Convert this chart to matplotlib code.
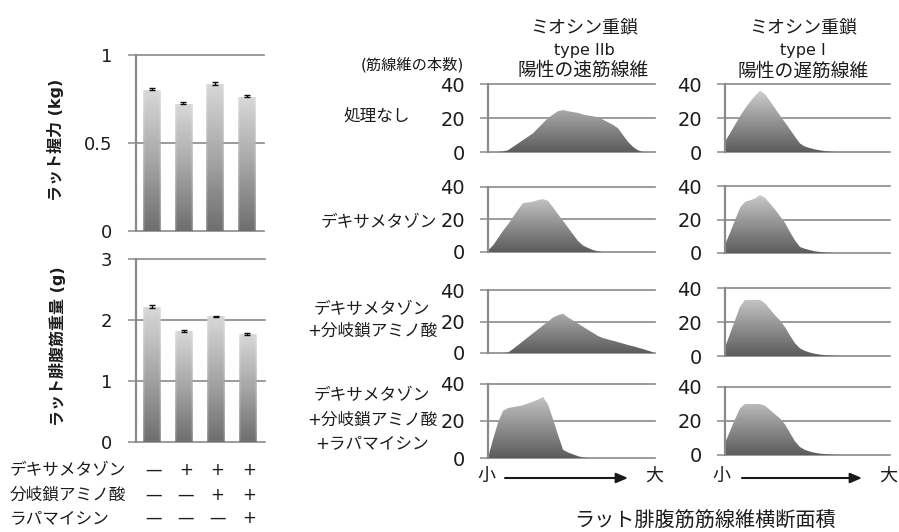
import numpy as np
import matplotlib
matplotlib.use('Agg')
import matplotlib.pyplot as plt
from matplotlib.patches import Polygon
from matplotlib.colors import LinearSegmentedColormap
from matplotlib.transforms import blended_transform_factory

plt.rcParams['font.family'] = ['DejaVu Sans', 'Noto Sans CJK JP']

# ------------------------------------------------------------------ data
treatments = ['デキサメタゾン', '分岐鎖アミノ酸', 'ラパマイシン']
treat_marks = [['—', '+', '+', '+'],
               ['—', '—', '+', '+'],
               ['—', '—', '—', '+']]
groups = [0, 1, 2, 3]
grip_kg = [0.80, 0.72, 0.83, 0.76]
grip_err = [0.015, 0.013, 0.015, 0.014]
grip_ticks = [0, 0.5, 1]
grip_ticklabels = ['0', '0.5', '1']
muscle_g = [2.20, 1.81, 2.05, 1.76]
muscle_err = [0.05, 0.03, 0.02, 0.03]
muscle_ticks = [0, 1, 2, 3]

count_ticks = [0, 20, 40]
# fibre cross-sectional area classes, small -> large
size_class = list(range(34))
# myosin heavy chain type IIb positive (fast) fibres
fast_none = [0, 0, 0, 0.3, 1, 3, 5, 7, 9, 11, 14, 17, 20, 22, 24, 24.7, 24,
             23.5, 23, 22, 21.5, 21, 20.5, 19, 17.5, 16, 14, 10, 6, 3, 1, 0, 0, 0]
fast_dex = [1, 4, 8.5, 13, 17, 21.5, 26, 30, 30.5, 31, 32, 32.5, 31.5, 27.5,
            23.3, 19.2, 15, 10.9, 6.8, 4, 2.5, 1.2, 0.4, 0, 0, 0, 0, 0, 0, 0,
            0, 0, 0, 0]
fast_dex_bcaa = [0, 0, 0, 0, 0.3, 2.5, 5, 7.5, 10, 12.5, 15, 17.5, 20, 22.5,
                 24, 25, 22.6, 20.7, 18.7, 16.7, 14.7, 12.8, 10.8, 9.5, 8.6,
                 7.8, 6.9, 6, 5.1, 4.3, 3.4, 2.5, 1.5, 0.5]
fast_dex_bcaa_rapa = [0, 10, 19, 25.5, 27, 27.5, 28, 28.5, 29.5, 30.5, 31.5,
                      33, 29, 21, 12.5, 4.5, 3, 2, 1, 0.3, 0, 0, 0, 0, 0, 0,
                      0, 0, 0, 0, 0, 0, 0, 0]
# myosin heavy chain type I positive (slow) fibres
slow_none = [6, 11, 16, 21, 25.5, 29.5, 33, 36, 34, 30, 25.7, 21.5, 17.4,
             13.3, 9, 5, 3.2, 2.3, 1.5, 1, 0.5, 0.2, 0, 0, 0, 0, 0, 0, 0, 0,
             0, 0, 0, 0]
slow_dex = [5, 12, 19.5, 27, 30.5, 31.5, 32.5, 34.5, 33, 29.5, 26, 22, 18,
            12.5, 7.5, 3.6, 2.5, 1.7, 1, 0.6, 0.3, 0.1, 0, 0, 0, 0, 0, 0, 0,
            0, 0, 0, 0, 0]
slow_dex_bcaa = [5, 13, 21, 29, 33, 33, 33, 33, 31, 27.5, 24, 21, 17, 12, 7.5,
                 4.5, 3, 2, 1.3, 0.8, 0.5, 0.3, 0.1, 0, 0, 0, 0, 0, 0, 0, 0,
                 0, 0, 0]
slow_dex_bcaa_rapa = [7, 14, 21, 27.5, 30, 30, 30, 30, 29, 26.5, 24, 21.5, 18,
                      13, 8, 4.7, 3, 2, 1.3, 0.8, 0.5, 0.3, 0.1, 0, 0, 0, 0,
                      0, 0, 0, 0, 0, 0, 0]

row_labels = [['処理なし'],
              ['デキサメタゾン'],
              ['デキサメタゾン', '+分岐鎖アミノ酸'],
              ['デキサメタゾン', '+分岐鎖アミノ酸', '+ラパマイシン']]
fast_series = [fast_none, fast_dex, fast_dex_bcaa, fast_dex_bcaa_rapa]
slow_series = [slow_none, slow_dex, slow_dex_bcaa, slow_dex_bcaa_rapa]

# ------------------------------------------------------------------ figure
W, H = 899, 532
fig = plt.figure(figsize=(W / 100, H / 100), dpi=100)
GRID = '#8a8a8a'
TXT = '#1c1c1c'

area_cmap = LinearSegmentedColormap.from_list('area', ['#5c5c5c', '#9a9a9a', '#dadada'])
bar_cmap = LinearSegmentedColormap.from_list('bar', ['#6e6e6e', '#a6a6a6', '#d8d8d8'])


def ax_px(x0, x1, ytop, ybot):
    ax = fig.add_axes([x0 / W, 1 - ybot / H, (x1 - x0) / W, (ybot - ytop) / H])
    ax.patch.set_visible(False)
    return ax


def style(ax, ticks, labels, fs, pad):
    for s in ('top', 'right', 'bottom'):
        ax.spines[s].set_visible(False)
    ax.spines['left'].set_color(GRID)
    ax.spines['left'].set_linewidth(1.6)
    ax.spines['left'].set_zorder(3)
    ax.set_xticks([])
    ax.set_yticks(ticks)
    ax.set_yticklabels(labels)
    ax.tick_params(axis='y', direction='out', length=5.8, width=1.1,
                   color=GRID, pad=pad, labelsize=fs, labelcolor=TXT)
    for t in ticks:
        ax.axhline(t, color=GRID, lw=1.2, zorder=1, clip_on=False)


# overlay in pixel coordinates for free text
ov = fig.add_axes([0, 0, 1, 1])
ov.set_xlim(0, W)
ov.set_ylim(H, 0)
ov.axis('off')


def bar_panel(ax, vals, errs, ymax):
    w = 0.5
    ax.bar(groups, vals, width=w, color='none', edgecolor='none')
    ny, nx = 200, 24
    g = np.linspace(0, 1, ny)[:, None]
    cols = bar_cmap(np.repeat(g, nx, axis=1))
    edge = np.abs(np.linspace(-1, 1, nx))
    alpha = np.clip(1.25 - 0.6 * edge ** 4, 0, 1)
    cols[..., 3] = alpha[None, :]
    for gx, v in zip(groups, vals):
        ax.imshow(cols, extent=[gx - w / 2 - 0.03, gx + w / 2 + 0.03, 0, v],
                  origin='lower', aspect='auto', zorder=2, interpolation='bilinear')
    ax.errorbar(groups, vals, yerr=[np.zeros(len(vals)), errs], fmt='none',
                ecolor='#111111', elinewidth=1.0, capsize=2.3, capthick=1.0, zorder=4)
    ax.set_xlim(-0.5, 3.55)
    ax.set_ylim(0, ymax)


# left: grip strength
ax1 = ax_px(136, 264, 55, 231)
bar_panel(ax1, grip_kg, grip_err, 1)
style(ax1, grip_ticks, grip_ticklabels, 13, 11.5)
ax1.set_ylim(0, 1)
ov.text(56, 140, 'ラット握力 (kg)', rotation=90, ha='center', va='center',
        fontsize=11.5, fontweight='bold', color=TXT)

# left: muscle weight
ax2 = ax_px(136, 265, 259, 442)
bar_panel(ax2, muscle_g, muscle_err, 3)
style(ax2, muscle_ticks, [str(t) for t in muscle_ticks], 13, 11.5)
ax2.set_ylim(0, 3)
ov.text(57, 346, 'ラット腓腹筋重量 (g)', rotation=90, ha='center', va='center',
        fontsize=11.5, fontweight='bold', color=TXT)

# treatment table
tr = blended_transform_factory(ax2.transData, ov.transData)
for name, marks, yy in zip(treatments, treat_marks, [470, 495, 518]):
    ov.text(10, yy, name, ha='left', va='center', fontsize=12, color=TXT)
    for gx, m in zip(groups, marks):
        ov.text(gx + 0.06, yy, m, ha='center', va='center', fontsize=12,
                color=TXT, transform=tr)


def area_panel(x0, x1, ytop, ybot, values):
    ax = ax_px(x0, x1, ytop, ybot)
    xmax = (x1 - x0) / 5.0
    x = np.asarray(size_class, float)
    y = np.asarray(values, float)
    verts = np.column_stack([np.r_[x, x[::-1]], np.r_[y, np.zeros_like(y)]])
    poly = Polygon(verts, closed=True, facecolor='none', edgecolor='none',
                   transform=ax.transData)
    ax.add_patch(poly)
    grad = np.linspace(0, 1, 256).reshape(-1, 1)
    im = ax.imshow(grad, extent=[0, xmax, 0, 40], origin='lower', cmap=area_cmap,
                   aspect='auto', zorder=2, interpolation='bilinear')
    im.set_clip_path(poly)
    ax.set_xlim(0, xmax)
    ax.set_ylim(0, 40)
    style(ax, count_ticks, [str(t) for t in count_ticks], 14, 10.8)
    return ax


mid_rows = [(84, 152), (187, 252), (290, 353), (384, 458)]
right_rows = [(84, 152), (186, 253), (288, 356), (387, 455)]
for (yt, yb), vals in zip(mid_rows, fast_series):
    area_panel(488, 655, yt, yb, vals)
for (yt, yb), vals in zip(right_rows, slow_series):
    area_panel(725, 890, yt, yb, vals)

# row labels
ov.text(410, 117, row_labels[0][0], ha='right', va='center', fontsize=12, color=TXT)
ov.text(437, 222, row_labels[1][0], ha='right', va='center', fontsize=12, color=TXT)
for line, yy in zip(row_labels[2], [309, 331]):
    ov.text(372, yy, line, ha='center', va='center', fontsize=12, color=TXT)
for line, yy in zip(row_labels[3], [395, 420, 443]):
    ov.text(372, yy, line, ha='center', va='center', fontsize=12, color=TXT)

# column titles
ov.text(412, 65, '(筋線維の本数)', ha='center', va='center', fontsize=11, color=TXT)
ov.text(584, 27, 'ミオシン重鎖', ha='center', va='center', fontsize=13, color=TXT)
ov.text(584, 51, 'type IIb', ha='center', va='center', fontsize=11.5, color=TXT)
ov.text(583, 70, '陽性の速筋線維', ha='center', va='center', fontsize=13.5, color=TXT)
ov.text(803, 27, 'ミオシン重鎖', ha='center', va='center', fontsize=13, color=TXT)
ov.text(803, 51, 'type I', ha='center', va='center', fontsize=11.5, color=TXT)
ov.text(803, 71, '陽性の遅筋線維', ha='center', va='center', fontsize=13.5, color=TXT)

# x-direction arrows
for xs, xa0, xa1, xl in [(486, 505, 628, 654), (721, 742, 862, 888)]:
    ov.text(xs, 476, '小', ha='center', va='center', fontsize=13, color=TXT)
    ov.text(xl, 476, '大', ha='center', va='center', fontsize=13, color=TXT)
    ov.annotate('', xy=(xa1, 478), xytext=(xa0, 478),
                arrowprops=dict(arrowstyle='-|>,head_length=0.7,head_width=0.3',
                                color='#1a1a1a', lw=1.5, shrinkA=0, shrinkB=0))

ov.text(705, 520, 'ラット腓腹筋筋線維横断面積', ha='center', va='center',
        fontsize=14.5, color=TXT)

fig.savefig('out.png', dpi=100)
